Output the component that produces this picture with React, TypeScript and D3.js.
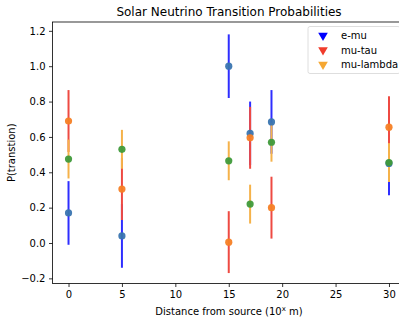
import React, { useEffect, useRef } from 'react';
import * as d3 from 'd3';

// distances (10^x m)
const distances = [0, 5, 15, 17, 19, 30];
const eMu = [0.17, 0.04, 1.0, 0.62, 0.685, 0.45];
const eMuErr = [0.18, 0.18, 0.18, 0.18, 0.18, 0.18];
const muTau = [0.69, 0.305, 0.005, 0.595, 0.2, 0.655];
const muTauErr = [0.175, 0.175, 0.175, 0.175, 0.175, 0.175];
const muLambda = [0.475, 0.53, 0.465, 0.22, 0.57, 0.455];
const muLambdaErr = [0.11, 0.11, 0.11, 0.11, 0.11, 0.11];

const xTicks = [0, 5, 10, 15, 20, 25, 30];
const yTicks = [-0.2, 0.0, 0.2, 0.4, 0.6, 0.8, 1.0, 1.2];

const seriesNames = ['e-mu', 'mu-tau', 'mu-lambda'];

const W = 399;
const H = 325;

export default function App() {
  const svgRef = useRef<SVGSVGElement>(null);

  useEffect(() => {
    if (!svgRef.current) return;
    const svg = d3.select(svgRef.current);
    svg.selectAll('*').remove();

    const margin = { top: 22, right: -6, bottom: 41.5, left: 52.5 };
    const innerW = W - margin.left - margin.right;
    const innerH = H - margin.top - margin.bottom;
    const font = 'DejaVu Sans, sans-serif';

    const x = d3.scaleLinear().domain([-1.5, 31.5]).range([0, innerW]);
    const y = d3.scaleLinear().domain([-0.229, 1.25]).range([innerH, 0]);

    const g = svg.append('g').attr('transform', `translate(${margin.left},${margin.top})`);

    const series = [
      { vals: eMu, err: eMuErr, line: '#2e2eff', marker: '#3a75b0' },
      { vals: muTau, err: muTauErr, line: '#ee4a42', marker: '#f57f25' },
      { vals: muLambda, err: muLambdaErr, line: '#f5b24a', marker: '#3f9a3a' }
    ];

    // error bars
    series.forEach(s => {
      g.append('g')
        .selectAll('line')
        .data(distances)
        .enter().append('line')
        .attr('x1', d => x(d))
        .attr('x2', d => x(d))
        .attr('y1', (d, i) => y(s.vals[i] - s.err[i]))
        .attr('y2', (d, i) => y(s.vals[i] + s.err[i]))
        .attr('stroke', s.line)
        .attr('stroke-width', 2);
    });

    // markers
    series.forEach(s => {
      g.append('g')
        .selectAll('circle')
        .data(distances)
        .enter().append('circle')
        .attr('cx', d => x(d))
        .attr('cy', (d, i) => y(s.vals[i]))
        .attr('r', 3.6)
        .attr('fill', s.marker)
        .attr('opacity', 0.95);
    });

    // axes
    const xAxis = g.append('g')
      .attr('transform', `translate(0,${innerH})`)
      .call(d3.axisBottom(x).tickValues(xTicks).tickSize(3.5).tickPadding(3.5).tickFormat(d3.format('d')));
    const yAxis = g.append('g')
      .call(d3.axisLeft(y).tickValues(yTicks).tickSize(3.5).tickPadding(3.5).tickFormat(d => d3.format('.1f')(d as number).replace('-', '\u2212')));

    [xAxis, yAxis].forEach(a => {
      a.select('.domain').remove();
      a.selectAll('line').attr('stroke', '#000').attr('stroke-width', 0.8);
      a.selectAll('text').attr('font-family', font).attr('font-size', 10).attr('fill', '#000');
    });

    // frame
    g.append('rect')
      .attr('width', innerW)
      .attr('height', innerH)
      .attr('fill', 'none')
      .attr('stroke', '#000')
      .attr('stroke-width', 0.8);

    // legend
    const legendColors = ['#0000ff', '#f03c2c', '#f5a732'];
    const lg = svg.append('g').attr('transform', 'translate(308,26.5)');
    lg.append('rect')
      .attr('width', 92)
      .attr('height', 47)
      .attr('rx', 2)
      .attr('fill', '#fff')
      .attr('fill-opacity', 0.8)
      .attr('stroke', '#d6d6d6')
      .attr('stroke-width', 0.8);
    const tri = d3.symbol().type(d3.symbolTriangle).size(40);
    seriesNames.forEach((name, i) => {
      const cy = 9 + i * 14.5;
      lg.append('path')
        .attr('d', tri)
        .attr('transform', `translate(15,${cy}) rotate(180)`)
        .attr('fill', legendColors[i]);
      lg.append('text')
        .attr('x', 33)
        .attr('y', cy + 3.5)
        .attr('font-family', font)
        .attr('font-size', 10)
        .text(name);
    });

    // title
    svg.append('text')
      .attr('x', 229)
      .attr('y', 16)
      .attr('text-anchor', 'middle')
      .attr('font-family', font)
      .attr('font-size', 12)
      .text('Solar Neutrino Transition Probabilities');

    // x label
    const xl = svg.append('text')
      .attr('x', 229)
      .attr('y', 315)
      .attr('text-anchor', 'middle')
      .attr('font-family', font)
      .attr('font-size', 10);
    xl.append('tspan').text('Distance from source (10');
    xl.append('tspan').attr('font-size', 7).attr('dy', -4).text('x');
    xl.append('tspan').attr('dy', 4).text(' m)');

    // y label
    svg.append('text')
      .attr('transform', `translate(15,${margin.top + innerH / 2}) rotate(-90)`)
      .attr('text-anchor', 'middle')
      .attr('font-family', font)
      .attr('font-size', 10)
      .text('P(transtion)');
  }, []);

  return (
    <svg
      ref={svgRef}
      width={W}
      height={H}
      style={{ position: 'absolute', left: 0, top: 0, background: '#fff' }}
    />
  );
}
